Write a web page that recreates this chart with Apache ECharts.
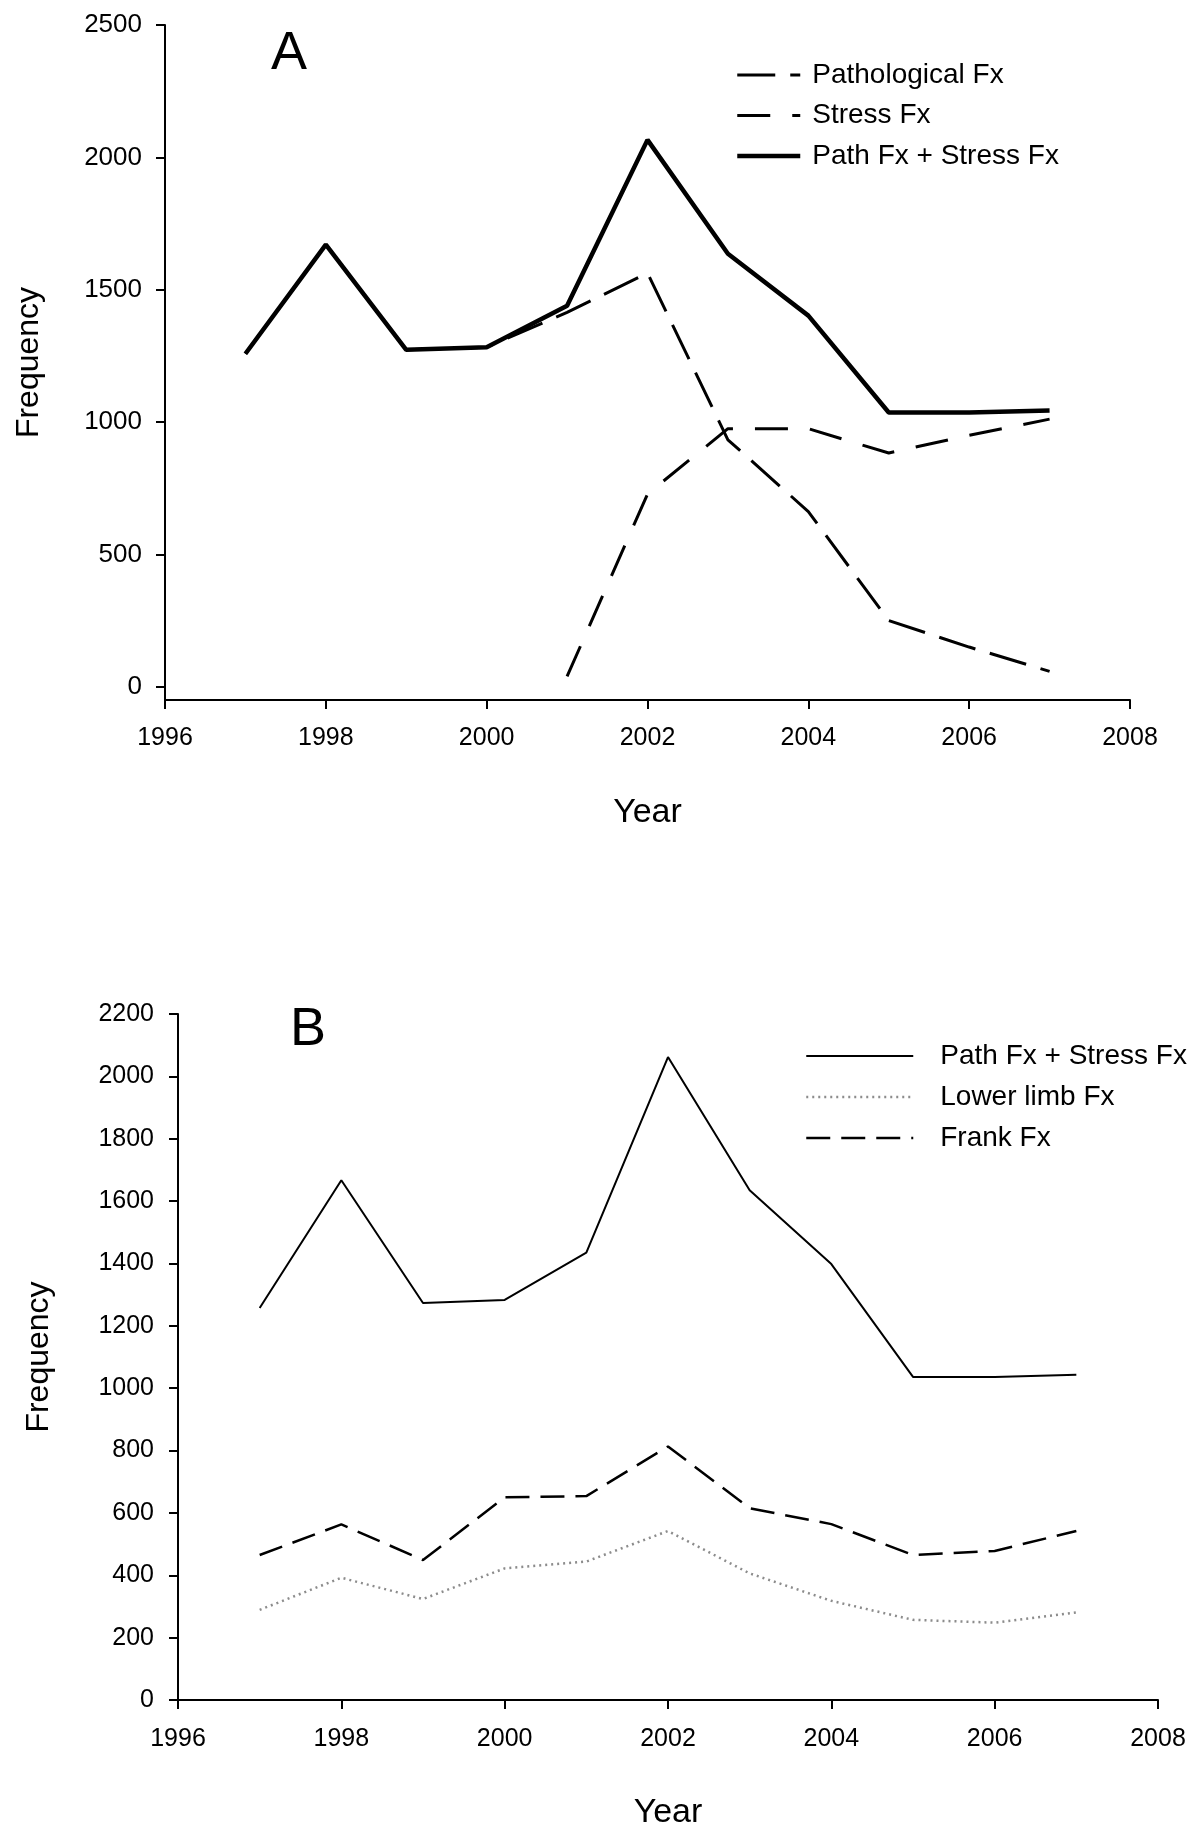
<!DOCTYPE html>
<html>
<head>
<meta charset="utf-8">
<script src="https://cdn.jsdelivr.net/npm/echarts@6/dist/echarts.min.js"></script>
<style>
html,body{margin:0;padding:0;background:#fff;}
#chart{width:1200px;height:1839px;}
</style>
</head>
<body>
<div id="chart"></div>
<script>
// ---- data ----
const years = [1997, 1998, 1999, 2000, 2001, 2002, 2003, 2004, 2005, 2006, 2007];

// Panel A
const pathologicalA = [1258, 1670, 1273, 1283, 1414, 1563, 933, 662, 250, 150, 58];
const stressA       = [null, null, null, null, 39, 728, 975, 975, 883, 950, 1011];
const totalA        = [1258, 1670, 1273, 1283, 1439, 2066, 1636, 1402, 1036, 1036, 1044];

// Panel B
const totalB = [1257, 1667, 1273, 1283, 1435, 2062, 1635, 1398, 1036, 1036, 1043];
const lowerB = [289, 392, 324, 422, 444, 542, 406, 318, 257, 248, 281];
const frankB = [465, 563, 449, 650, 654, 813, 615, 564, 465, 478, 542];

// ticks
const yTicksA = [0, 500, 1000, 1500, 2000, 2500];

const FONT = 'Liberation Sans, Arial, Helvetica, sans-serif';

function pairs(arr) {
  return years.map((y, i) => [y, arr[i]]).filter(d => d[1] !== null);
}

const chart = echarts.init(document.getElementById('chart'), null, {renderer: 'canvas'});

function xAxisCfg(gi, margin) {
  return {
    gridIndex: gi, type: 'value', min: 1996, max: 2008, interval: 2,
    axisLine: {onZero: false, lineStyle: {color: '#000', width: 2}},
    axisTick: {length: 9, lineStyle: {color: '#000', width: 2}},
    axisLabel: {fontSize: 25, color: '#000', margin: margin, fontFamily: FONT,
      showMinLabel: true, showMaxLabel: true, formatter: v => String(v)},
    splitLine: {show: false},
    name: 'Year', nameLocation: 'middle', nameGap: 96,
    nameTextStyle: {fontSize: 34, color: '#000', fontFamily: FONT}
  };
}

const hiddenSymbol = {color: 'rgba(0,0,0,0)', borderColor: 'rgba(0,0,0,0)', borderWidth: 0, opacity: 0};

const option = {
  animation: false,
  backgroundColor: '#fff',
  textStyle: {fontFamily: FONT},
  grid: [
    {left: 165, top: 25, width: 965, height: 675},
    {left: 178, top: 1014, width: 980, height: 686}
  ],
  xAxis: [xAxisCfg(0, 26), xAxisCfg(1, 27)],
  yAxis: [
    {
      gridIndex: 0, type: 'value', min: -50, max: 2500,
      axisLine: {show: true, lineStyle: {color: '#000', width: 2}},
      axisTick: {show: true, length: 9, customValues: yTicksA, lineStyle: {color: '#000', width: 2}},
      axisLabel: {fontSize: 26, color: '#000', margin: 23, customValues: yTicksA, formatter: v => String(v)},
      splitLine: {show: false},
      name: 'Frequency', nameLocation: 'middle', nameGap: 120,
      nameTextStyle: {fontSize: 32, color: '#000', fontFamily: FONT}
    },
    {
      gridIndex: 1, type: 'value', min: 0, max: 2200, interval: 200,
      axisLine: {show: true, lineStyle: {color: '#000', width: 2}},
      axisTick: {show: true, length: 9, lineStyle: {color: '#000', width: 2}},
      axisLabel: {fontSize: 25, color: '#000', margin: 24, showMinLabel: true, showMaxLabel: true, formatter: v => String(v)},
      splitLine: {show: false},
      name: 'Frequency', nameLocation: 'middle', nameGap: 123,
      nameTextStyle: {fontSize: 32, color: '#000', fontFamily: FONT}
    }
  ],
  legend: [
    {
      orient: 'vertical', left: 735, top: 60, padding: 0,
      itemWidth: 63, itemHeight: 14, itemGap: 10.5,
      itemStyle: hiddenSymbol,
      lineStyle: {width: 'inherit'},
      data: [
        {name: 'Pathological Fx', lineStyle: {width: 3}},
        {name: 'Stress Fx', lineStyle: {width: 3}},
        {name: 'Path Fx + Stress Fx', lineStyle: {width: 4.5}}
      ],
      textStyle: {fontSize: 28, color: '#000', lineHeight: 30, padding: [0, 0, 0, 7], fontFamily: FONT},
      selectedMode: false
    },
    {
      orient: 'vertical', left: 805, top: 1041, padding: 0,
      itemWidth: 107, itemHeight: 14, itemGap: 11,
      itemStyle: hiddenSymbol,
      lineStyle: {width: 'inherit'},
      data: [
        {name: 'Path Fx + Stress Fx (B)', lineStyle: {width: 2}},
        {name: 'Lower limb Fx', lineStyle: {width: 2.5}},
        {name: 'Frank Fx', lineStyle: {width: 2.5}}
      ],
      formatter: n => n.replace(' (B)', ''),
      textStyle: {fontSize: 28, color: '#000', lineHeight: 30, padding: [0, 0, 0, 22], fontFamily: FONT},
      selectedMode: false
    }
  ],
  graphic: [
    {type: 'text', left: 271, top: 27, style: {text: 'A', font: '54px ' + FONT, fill: '#000'}},
    {type: 'text', left: 290, top: 1003, style: {text: 'B', font: '54px ' + FONT, fill: '#000'}}
  ],
  series: [
    {
      name: 'Pathological Fx', type: 'line', xAxisIndex: 0, yAxisIndex: 0,
      data: pairs(pathologicalA), symbol: 'none', z: 2,
      lineStyle: {color: '#000', width: 3, type: [38, 15]},
      itemStyle: {color: '#000'}
    },
    {
      name: 'Stress Fx', type: 'line', xAxisIndex: 0, yAxisIndex: 0,
      data: pairs(stressA), symbol: 'none', z: 2,
      lineStyle: {color: '#000', width: 3, type: [33, 22]},
      itemStyle: {color: '#000'}
    },
    {
      name: 'Path Fx + Stress Fx', type: 'line', xAxisIndex: 0, yAxisIndex: 0,
      data: pairs(totalA), symbol: 'none', z: 3,
      lineStyle: {color: '#000', width: 4.5, type: 'solid'},
      itemStyle: {color: '#000'}
    },
    {
      name: 'Path Fx + Stress Fx (B)', type: 'line', xAxisIndex: 1, yAxisIndex: 1,
      data: pairs(totalB), symbol: 'none', z: 3,
      lineStyle: {color: '#000', width: 2, type: 'solid'},
      itemStyle: {color: '#000'}
    },
    {
      name: 'Lower limb Fx', type: 'line', xAxisIndex: 1, yAxisIndex: 1,
      data: pairs(lowerB), symbol: 'none', z: 2,
      lineStyle: {color: '#8c8c8c', width: 2.5, type: [2, 4]},
      itemStyle: {color: '#8c8c8c'}
    },
    {
      name: 'Frank Fx', type: 'line', xAxisIndex: 1, yAxisIndex: 1,
      data: pairs(frankB), symbol: 'none', z: 2,
      lineStyle: {color: '#000', width: 2.5, type: [24, 11]},
      itemStyle: {color: '#000'}
    }
  ]
};

chart.setOption(option);
</script>
</body>
</html>
